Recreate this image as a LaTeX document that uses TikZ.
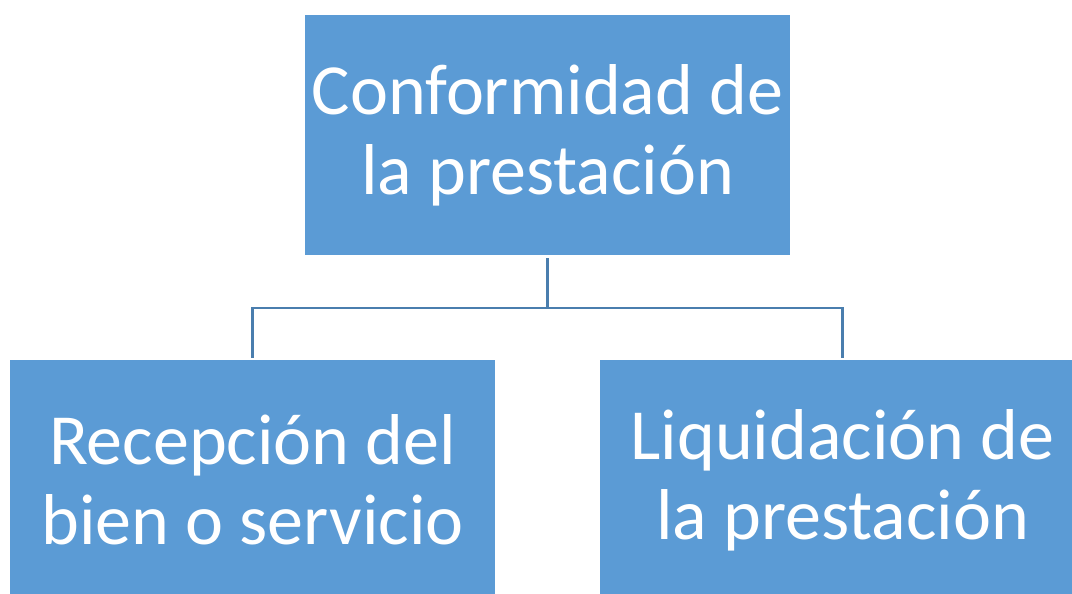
\documentclass[tikz,border=0pt]{standalone}
\usepackage{fontspec}
\setmainfont{Carlito}
\definecolor{boxblue}{HTML}{5B9BD5}
\definecolor{linkblue}{HTML}{4A7EAE}
\begin{document}
\begin{tikzpicture}[x=1pt,y=-1pt,
  box/.style={fill=boxblue, text=white, minimum width=485pt, minimum height=240pt,
    align=center, inner sep=0pt, font=\fontsize{72}{80}\selectfont},
  link/.style={draw=linkblue, line width=2.5pt}]
\useasboundingbox (0,0) rectangle (1072,594);
\clip (0,0) rectangle (1072,594);
\node[box] (top) at (547.5,135) {Conformidad de\\la prestación};
\node[box] (left) at (252.5,480) {Recepción del\\bien o servicio};
\node[box] (right) at (842.5,480) {Liquidación de\\la prestación};
\coordinate (mid) at (547.5,308);
\draw[link, shorten <=3pt] (top.south) -- (mid);
\draw[link, shorten <=2pt, shorten >=2pt] (left.north) |- (mid) -| (right.north);
\end{tikzpicture}
\end{document}
